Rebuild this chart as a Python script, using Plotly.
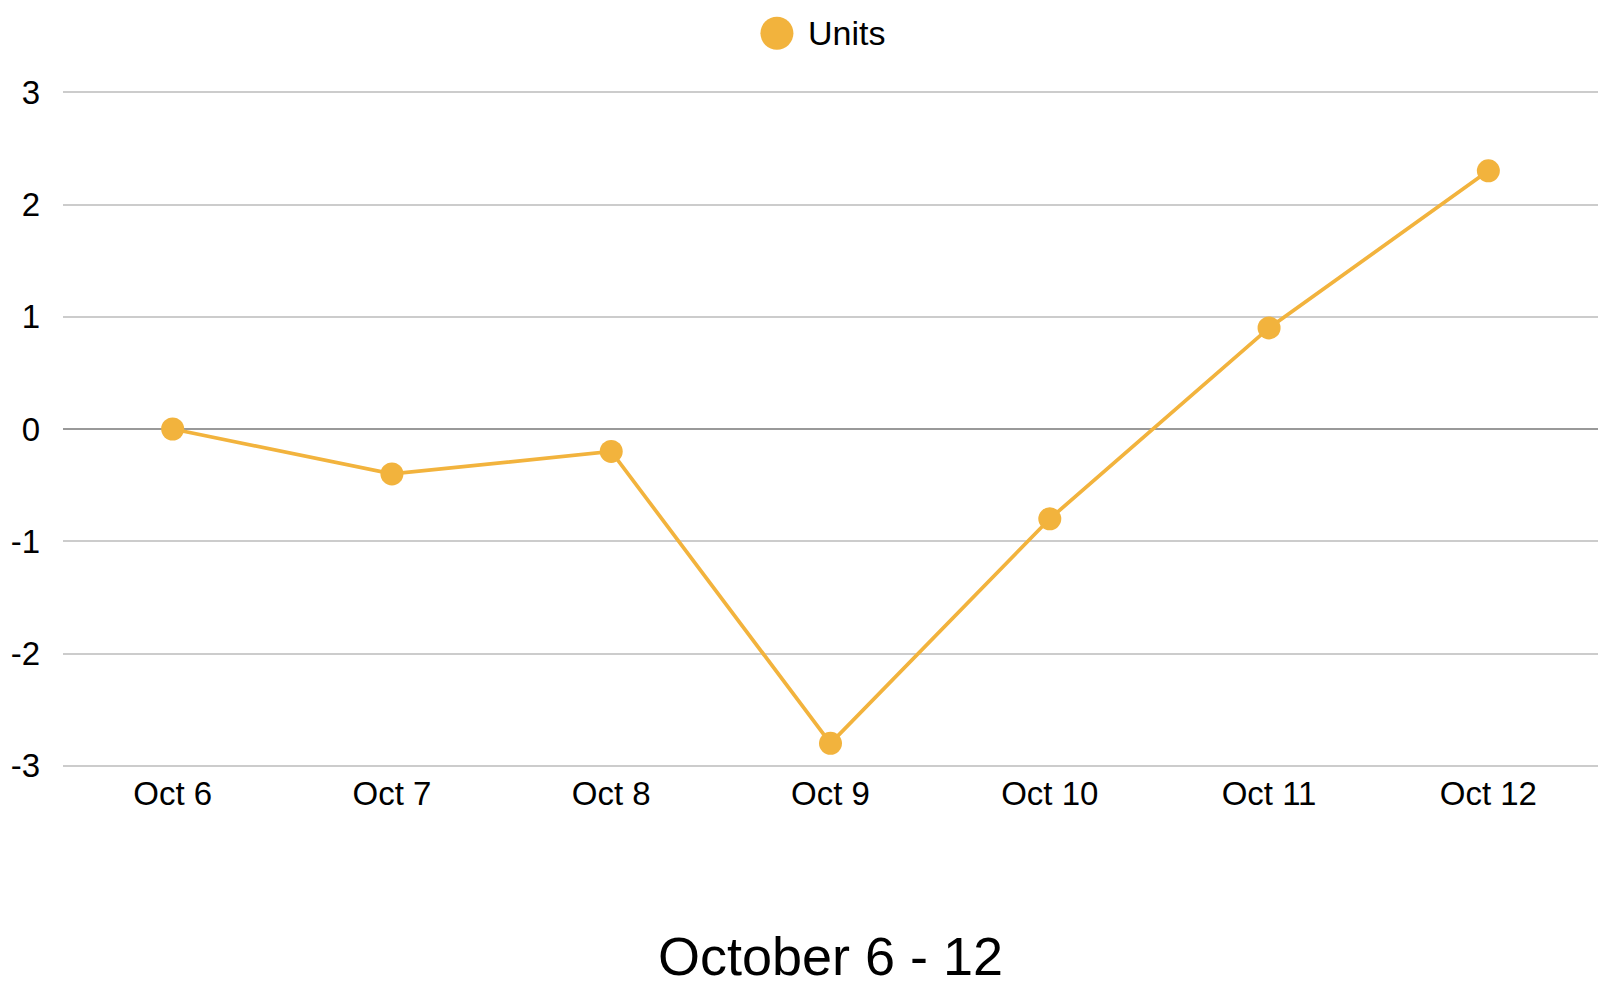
"""Daily units line chart for October 6 - 12."""

import plotly.graph_objs as go

days = ["Oct 6", "Oct 7", "Oct 8", "Oct 9", "Oct 10", "Oct 11", "Oct 12"]
units = [0, -0.4, -0.2, -2.8, -0.8, 0.9, 2.3]
y_ticks = [-3, -2, -1, 0, 1, 2, 3]
y_tick_text = ["-3", "-2", "-1", "0", "1", "2", "3"]
series_name = "Units"

ORANGE = "#F2B33D"
FONT = "Liberation Sans, Arial, sans-serif"

fig = go.Figure()
fig.add_trace(
    go.Scatter(
        x=days,
        y=units,
        mode="lines+markers",
        name=series_name,
        line={"color": ORANGE, "width": 3.7},
        marker={"color": ORANGE, "size": 23},
        showlegend=False,
    )
)

# legend drawn by hand: plotly caps legend symbols at 16px, the original uses a big dot
fig.add_shape(
    type="circle",
    xref="paper",
    yref="paper",
    xsizemode="pixel",
    ysizemode="pixel",
    xanchor=0.4651,
    yanchor=1.0837,
    x0=-16.5,
    x1=16.5,
    y0=-16.5,
    y1=16.5,
    fillcolor=ORANGE,
    line={"width": 0},
)
fig.add_annotation(
    text=series_name,
    xref="paper",
    yref="paper",
    x=0.484,
    y=1.0837,
    xanchor="left",
    yanchor="middle",
    showarrow=False,
    font={"size": 34},
)

fig.update_layout(
    width=1600,
    height=978,
    paper_bgcolor="white",
    plot_bgcolor="white",
    font={"family": FONT, "color": "black", "size": 33},
    margin={"l": 55, "r": 10, "t": 82, "b": 218},
    xaxis={
        "type": "category",
        "range": [-0.5, 6.5],
        "showgrid": False,
        "zeroline": False,
        "showline": False,
        "ticks": "",
        "automargin": False,
        "ticklabelstandoff": 3,
        "tickfont": {"size": 33},
        "title": {"text": "October 6 - 12", "font": {"size": 54}, "standoff": 129},
    },
    yaxis={
        "range": [-3.02, 3.02],
        "tickvals": y_ticks,
        "ticktext": y_tick_text,
        "showgrid": True,
        "gridcolor": "#cccccc",
        "gridwidth": 1.5,
        "zeroline": True,
        "zerolinecolor": "#999999",
        "zerolinewidth": 1.5,
        "showline": False,
        "ticks": "",
        "automargin": False,
        "ticklabelstandoff": 22,
        "tickfont": {"size": 33},
    },
)

fig.write_html("out.html")
